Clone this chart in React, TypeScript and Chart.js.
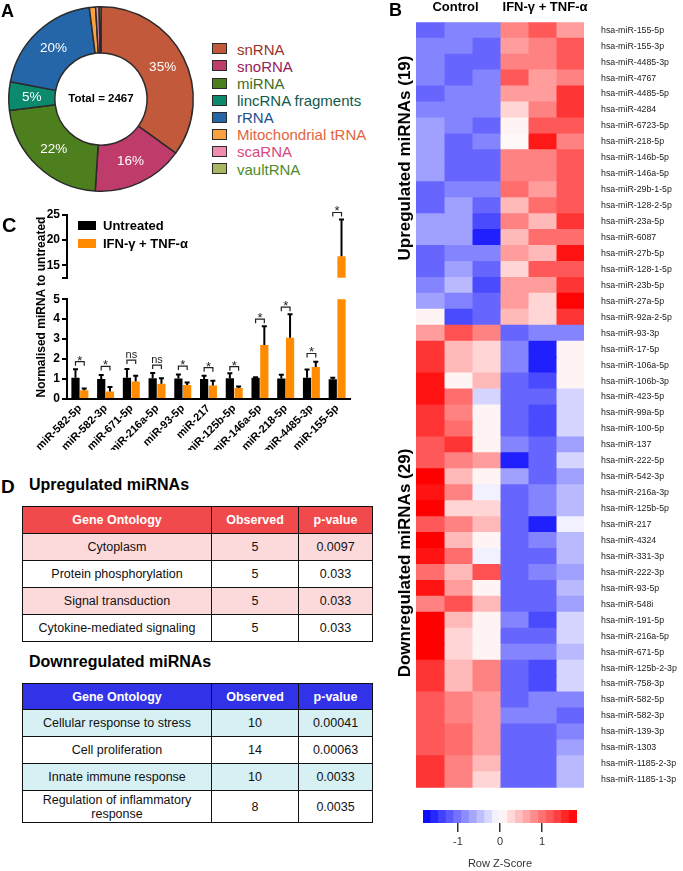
import React, { useEffect, useRef } from 'react';
import { Chart, registerables } from 'chart.js';
Chart.register(...registerables);

const FONT = '"Liberation Sans", Arial, Helvetica, sans-serif';

// ---------- Panel A ----------
const RNA_TYPES = ['snRNA', 'snoRNA', 'miRNA', 'lincRNA fragments', 'rRNA', 'Mitochondrial tRNA', 'scaRNA', 'vaultRNA'];
const RNA_COUNTS = [863, 395, 543, 123, 493, 27, 15, 8];
const RNA_PCT_LABELS = ['35%', '16%', '22%', '5%', '20%', '', '', ''];
const RNA_COLORS = ['#C2593B', '#BF3B6C', '#4E7F1F', '#0B8A6D', '#2466A8', '#F9A23F', '#F08CB0', '#A8B760'];
const RNA_TEXT_COLORS = ['#9A3328', '#962259', '#3F6E1C', '#11594A', '#1D4F8B', '#E2653E', '#D8487E', '#4E8A2B'];
const TOTAL_LABEL = 'Total = 2467';

// ---------- Panel C ----------
const MIRNAS_C = ['miR-582-5p', 'miR-582-3p', 'miR-671-5p', 'miR-216a-5p', 'miR-93-5p', 'miR-217', 'miR-125b-5p', 'miR-146a-5p', 'miR-218-5p', 'miR-4485-3p', 'miR-155-5p'];
const UNTREATED = [1.07, 1.0, 1.07, 1.04, 1.03, 1.0, 1.04, 1.06, 1.03, 1.06, 0.99];
const UNTREATED_ERR = [1.49, 1.2, 1.5, 1.3, 1.23, 1.16, 1.29, 1.09, 1.21, 1.48, 1.07];
const TREATED = [0.44, 0.38, 0.88, 0.76, 0.7, 0.68, 0.55, 2.7, 3.07, 1.6, 16.8];
const TREATED_ERR = [0.52, 0.6, 1.16, 1.04, 0.83, 0.91, 0.63, 3.65, 4.25, 1.86, 24.1];
const SIG_LABELS = ['*', '*', 'ns', 'ns', '*', '*', '*', '*', '*', '*', '*'];
const SIG_Y = [1.87, 1.63, 1.95, 1.7, 1.65, 1.57, 1.62, 4.0, 4.6, 2.28, 25.5];
const LOWER_TICKS = [0, 1, 2, 3, 4, 5];
const UPPER_MIN = 12.5;
const UPPER_TICKS = [15, 20, 25];
const SERIES_C = ['Untreated', 'IFN-γ + TNF-α'];
const COLORS_C = ['#000000', '#FF8C00'];

// ---------- Panel B ----------
const HM_ROWS = [
  'hsa-miR-155-5p', 'hsa-miR-155-3p', 'hsa-miR-4485-3p', 'hsa-miR-4767', 'hsa-miR-4485-5p', 'hsa-miR-4284',
  'hsa-miR-6723-5p', 'hsa-miR-218-5p', 'hsa-miR-146b-5p', 'hsa-miR-146a-5p', 'hsa-miR-29b-1-5p', 'hsa-miR-128-2-5p',
  'hsa-miR-23a-5p', 'hsa-miR-6087', 'hsa-miR-27b-5p', 'hsa-miR-128-1-5p', 'hsa-miR-23b-5p', 'hsa-miR-27a-5p',
  'hsa-miR-92a-2-5p',
  'hsa-miR-93-3p', 'hsa-miR-17-5p', 'hsa-miR-106a-5p', 'hsa-miR-106b-3p', 'hsa-miR-423-5p', 'hsa-miR-99a-5p',
  'hsa-miR-100-5p', 'hsa-miR-137', 'hsa-miR-222-5p', 'hsa-miR-542-3p', 'hsa-miR-216a-3p', 'hsa-miR-125b-5p',
  'hsa-miR-217', 'hsa-miR-4324', 'hsa-miR-331-3p', 'hsa-miR-222-3p', 'hsa-miR-93-5p', 'hsa-miR-548i',
  'hsa-miR-191-5p', 'hsa-miR-216a-5p', 'hsa-miR-671-5p', 'hsa-miR-125b-2-3p', 'hsa-miR-758-3p', 'hsa-miR-582-5p',
  'hsa-miR-582-3p', 'hsa-miR-139-3p', 'hsa-miR-1303', 'hsa-miR-1185-2-3p', 'hsa-miR-1185-1-3p',
];
const HM_CTRL_1 = [-1.1, -0.88, -0.88, -0.88, -1.1, -0.88, -0.68, -0.68, -0.68, -0.68, -1.1, -1.1, -0.68, -0.68, -1.1, -1.1, -0.88, -0.68, 0.08,
  0.7, 1.45, 1.45, 1.7, 1.7, 1.45, 1.45, 1.2, 1.2, 1.83, 1.7, 1.83, 1.2, 1.83, 1.7, 1.05, 1.7, 0.9, 1.83, 1.83, 1.83, 1.45, 1.45, 1.2, 1.2, 1.2, 1.2, 1.45, 1.45];
const HM_CTRL_2 = [-0.88, -0.88, -1.1, -1.1, -0.88, -0.88, -0.88, -1.1, -1.1, -1.1, -0.88, -0.68, -0.68, -0.68, -0.88, -0.68, -0.5, -0.9, -1.3,
  1.25, 0.5, 0.5, 0.08, 1.05, 0.9, 1.05, 1.45, 0.9, 0.5, 0.9, 0.3, 0.9, 0.5, 1.05, 0.5, 0.7, 1.25, 0.5, 0.3, 0.3, 0.5, 0.5, 0.9, 0.9, 1.05, 1.05, 0.9, 0.9];
const HM_CTRL_3 = [-0.88, -1.1, -1.1, -0.88, -0.88, -0.88, -1.1, -0.88, -1.1, -1.1, -0.88, -1.1, -1.3, -1.6, -0.88, -1.1, -1.3, -1.1, -1.1,
  0.9, 0.3, 0.3, 0.5, -0.3, 0.08, 0.08, 0.08, 0.7, 0.08, -0.1, 0.3, 0.5, 0.08, -0.1, 1.25, 0.08, 0.5, 0.08, 0.08, 0.08, 0.9, 0.9, 0.7, 0.7, 0.7, 0.7, 0.5, 0.3];
const HM_TRT_1 = [0.88, 0.7, 0.9, 1.2, 0.7, 0.3, 0.08, 0.05, 0.9, 0.9, 1.05, 0.5, 0.9, 0.5, 0.7, 0.3, 0.7, 0.7, 0.5,
  -1.1, -0.88, -0.88, -1.1, -1.1, -1.1, -1.1, -0.88, -1.6, -0.68, -1.1, -1.1, -1.1, -1.1, -1.1, -1.1, -1.1, -1.1, -0.88, -1.1, -0.88, -1.1, -1.1, -1.1, -0.88, -1.1, -1.1, -1.1, -1.1];
const HM_TRT_2 = [1.2, 0.9, 0.9, 0.7, 0.7, 0.9, 1.2, 1.65, 0.9, 0.9, 0.7, 1.05, 0.5, 1.05, 0.5, 1.2, 0.7, 0.3, 0.3,
  -0.88, -1.6, -1.6, -1.3, -1.1, -1.3, -1.3, -1.1, -1.1, -1.1, -0.88, -0.88, -1.6, -0.88, -1.1, -0.88, -1.1, -1.1, -1.3, -1.1, -0.88, -1.3, -1.3, -0.88, -0.88, -1.1, -1.1, -1.1, -1.1];
const HM_TRT_3 = [0.7, 1.2, 1.2, 0.9, 1.45, 1.45, 1.2, 0.9, 1.2, 1.2, 1.2, 1.2, 1.45, 1.05, 1.7, 1.2, 1.45, 1.8, 1.45,
  -0.88, 0.08, 0.08, 0.08, -0.3, -0.3, -0.3, -0.68, -0.3, -0.68, -0.5, -0.5, -0.1, -0.5, -0.5, -0.68, -0.5, -0.68, -0.3, -0.3, -0.5, -0.3, -0.3, -0.88, -1.1, -0.88, -0.68, -0.5, -0.5];
const HM_COLUMNS = [HM_CTRL_1, HM_CTRL_2, HM_CTRL_3, HM_TRT_1, HM_TRT_2, HM_TRT_3];
const Z_MAX = 1.83;
const CB_STEPS = 20;
const CB_TICKS = [-1, 0, 1];

// ---------- Panel D ----------
const UP_GO = ['Cytoplasm', 'Protein phosphorylation', 'Signal transduction', 'Cytokine-mediated signaling'];
const UP_OBS = [5, 5, 5, 5];
const UP_P = ['0.0097', '0.033', '0.033', '0.033'];
const DOWN_GO = ['Cellular response to stress', 'Cell proliferation', 'Innate immune response', 'Regulation of inflammatory response'];
const DOWN_OBS = [10, 14, 10, 8];
const DOWN_P = ['0.00041', '0.00063', '0.0033', '0.0035'];
const TABLE_HEAD = ['Gene Ontology', 'Observed', 'p-value'];

function zColor(z: number): string {
  const t = Math.max(-1, Math.min(1, z / Z_MAX));
  if (t < 0) {
    const v = Math.round(255 * (1 + t));
    return `rgb(${v},${v},255)`;
  }
  const v = Math.round(255 * (1 - t));
  return `rgb(255,${v},${v})`;
}

function ChartCanvas({ left, top, width, height, make }: { left: number; top: number; width: number; height: number; make: () => any }) {
  const ref = useRef<HTMLCanvasElement>(null);
  useEffect(() => {
    const chart = new Chart(ref.current as HTMLCanvasElement, make());
    return () => chart.destroy();
  }, []);
  return <canvas ref={ref} width={width} height={height} style={{ position: 'absolute', left, top, width, height }} />;
}

// ----- configs -----
const donutConfig = () => ({
  type: 'doughnut',
  data: {
    labels: RNA_TYPES,
    datasets: [{ data: RNA_COUNTS, backgroundColor: RNA_COLORS, borderColor: '#2b2b2b', borderWidth: 1.5 }],
  },
  options: {
    responsive: false,
    animation: false,
    devicePixelRatio: 1,
    cutout: '50%',
    layout: { padding: 6 },
    plugins: { legend: { display: false }, tooltip: { enabled: false } },
  },
  plugins: [
    {
      id: 'donutText',
      afterDatasetsDraw(chart: any) {
        const { ctx } = chart;
        const meta = chart.getDatasetMeta(0);
        ctx.save();
        ctx.textAlign = 'center';
        ctx.textBaseline = 'middle';
        ctx.fillStyle = '#ffffff';
        ctx.font = `13.5px ${FONT}`;
        meta.data.forEach((arc: any, i: number) => {
          const lab = RNA_PCT_LABELS[i];
          if (!lab) return;
          const p = arc.tooltipPosition();
          ctx.fillText(lab, p.x, p.y);
        });
        const a0 = meta.data[0];
        ctx.fillStyle = '#000';
        ctx.font = `bold 11.5px ${FONT}`;
        ctx.fillText(TOTAL_LABEL, a0.x, a0.y);
        ctx.restore();
      },
    },
  ],
});

const annotPlugin = (lo: number, hi: number) => ({
  id: 'annot',
  afterDatasetsDraw(chart: any) {
    const { ctx, chartArea, scales } = chart;
    const y = scales.y;
    const m0 = chart.getDatasetMeta(0);
    const m1 = chart.getDatasetMeta(1);
    ctx.save();
    ctx.beginPath();
    ctx.rect(chartArea.left, chartArea.top - 1, chartArea.right - chartArea.left, chartArea.bottom - chartArea.top + 1);
    ctx.clip();
    ctx.strokeStyle = '#000';
    ctx.lineWidth = 2;
    const sets: [any, number[], number[]][] = [[m0, UNTREATED, UNTREATED_ERR], [m1, TREATED, TREATED_ERR]];
    sets.forEach(([m, vals, errs]) => {
      m.data.forEach((bar: any, j: number) => {
        const x = bar.x;
        const yb = y.getPixelForValue(vals[j]);
        const yt = y.getPixelForValue(errs[j]);
        ctx.beginPath();
        ctx.moveTo(x, yb);
        ctx.lineTo(x, yt);
        ctx.moveTo(x - 2.5, yt);
        ctx.lineTo(x + 2.5, yt);
        ctx.stroke();
      });
    });
    ctx.restore();
    ctx.save();
    ctx.strokeStyle = '#222';
    ctx.fillStyle = '#222';
    ctx.lineWidth = 1.2;
    ctx.textAlign = 'center';
    ctx.textBaseline = 'alphabetic';
    SIG_Y.forEach((v, j) => {
      if (v < lo || v > hi) return;
      const x1 = m0.data[j].x;
      const x2 = m1.data[j].x;
      const py = y.getPixelForValue(v);
      ctx.beginPath();
      ctx.moveTo(x1, py + 4);
      ctx.lineTo(x1, py);
      ctx.lineTo(x2, py);
      ctx.lineTo(x2, py + 4);
      ctx.stroke();
      const lab = SIG_LABELS[j];
      if (lab === 'ns') {
        ctx.font = `11px ${FONT}`;
        ctx.fillText(lab, (x1 + x2) / 2, py - 2.5);
      } else {
        ctx.font = `13px ${FONT}`;
        ctx.fillText(lab, (x1 + x2) / 2, py + 3);
      }
    });
    ctx.restore();
  },
});

const barDatasets = () => [
  { label: SERIES_C[0], data: UNTREATED, backgroundColor: COLORS_C[0], barPercentage: 0.94, categoryPercentage: 0.68, clip: 0 },
  { label: SERIES_C[1], data: TREATED, backgroundColor: COLORS_C[1], barPercentage: 0.94, categoryPercentage: 0.68, clip: 0 },
];

const yAxisCommon = {
  grid: { display: true, drawOnChartArea: false, drawTicks: true, tickLength: 5, color: '#000', lineWidth: 2 },
  border: { display: true, color: '#000', width: 2 },
  ticks: { font: { family: FONT, size: 12, weight: 'bold' }, color: '#000', padding: 2 },
  afterFit: (s: any) => { s.width = 67; },
};

const lowerConfig = () => ({
  type: 'bar',
  data: { labels: MIRNAS_C, datasets: barDatasets() },
  options: {
    responsive: false,
    animation: false,
    devicePixelRatio: 1,
    layout: { padding: { left: 0, right: 5, top: 8, bottom: 0 } },
    plugins: { legend: { display: false }, tooltip: { enabled: false } },
    scales: {
      x: {
        grid: { display: false, drawTicks: false },
        border: { display: true, color: '#000', width: 2 },
        ticks: { font: { family: FONT, size: 11, weight: 'bold' }, color: '#000', maxRotation: 45, minRotation: 45, autoSkip: false, padding: 3 },
        afterFit: (s: any) => { s.height = 51; },
      },
      y: {
        ...yAxisCommon,
        min: 0,
        max: 5,
        afterBuildTicks: (s: any) => { s.ticks = LOWER_TICKS.map((v) => ({ value: v })); },
      },
    },
  },
  plugins: [annotPlugin(-1, 5)],
});

const upperConfig = () => ({
  type: 'bar',
  data: { labels: MIRNAS_C, datasets: barDatasets() },
  options: {
    responsive: false,
    animation: false,
    devicePixelRatio: 1,
    layout: { padding: { left: 0, right: 5, top: 15, bottom: 0 } },
    plugins: { legend: { display: false }, tooltip: { enabled: false } },
    scales: {
      x: { display: false },
      y: {
        ...yAxisCommon,
        min: UPPER_MIN,
        max: 25,
        afterBuildTicks: (s: any) => { s.ticks = [UPPER_MIN, ...UPPER_TICKS].map((v) => ({ value: v })); },
        ticks: { ...yAxisCommon.ticks, callback: (v: any) => (v === UPPER_MIN ? '' : String(v)) },
      },
    },
  },
  plugins: [annotPlugin(UPPER_MIN, 30)],
});

const heatmapConfig = () => ({
  type: 'bar',
  data: {
    labels: HM_ROWS,
    datasets: HM_COLUMNS.map((col, ci) => ({
      label: `col${ci + 1}`,
      data: HM_ROWS.map(() => 1),
      backgroundColor: col.map(zColor),
      borderWidth: 0,
      barPercentage: 1,
      categoryPercentage: 1,
      inflateAmount: 0.5,
    })),
  },
  options: {
    indexAxis: 'y',
    responsive: false,
    animation: false,
    devicePixelRatio: 1,
    layout: { padding: { left: 16, top: 18, right: 0, bottom: 5 } },
    plugins: { legend: { display: false }, tooltip: { enabled: false } },
    scales: {
      x: { type: 'linear', display: false, stacked: true, min: 0, max: 6 },
      y: {
        type: 'category',
        stacked: true,
        position: 'right',
        grid: { display: false, drawTicks: false },
        border: { display: false },
        ticks: { autoSkip: false, font: { family: FONT, size: 8.8 }, color: '#222', padding: 17 },
        afterFit: (s: any) => { s.width = 99; },
      },
    },
  },
});

const colorbarConfig = () => {
  const w = (2 * Z_MAX) / CB_STEPS;
  const steps = Array.from({ length: CB_STEPS }, (_, k) => [-Z_MAX + k * w, -Z_MAX + (k + 1) * w]);
  return {
    type: 'bar',
    data: {
      labels: ['z'],
      datasets: [{
        data: steps.map((s) => ({ x: s, y: 'z' })),
        backgroundColor: steps.map((s) => zColor((s[0] + s[1]) / 2)),
        borderWidth: 0,
        barPercentage: 1,
        categoryPercentage: 1,
        inflateAmount: 0.4,
      }],
    },
    options: {
      indexAxis: 'y',
      responsive: false,
      animation: false,
      devicePixelRatio: 1,
      layout: { padding: { left: 8, right: 8, top: 5, bottom: 0 } },
      plugins: { legend: { display: false }, tooltip: { enabled: false } },
      scales: {
        x: {
          type: 'linear',
          min: -Z_MAX,
          max: Z_MAX,
          afterBuildTicks: (s: any) => { s.ticks = CB_TICKS.map((v) => ({ value: v })); },
          grid: { display: true, drawOnChartArea: false, drawTicks: true, tickLength: 9, color: '#333', lineWidth: 1.5 },
          border: { display: false },
          ticks: { font: { family: FONT, size: 11 }, color: '#333', padding: 3 },
          title: { display: true, text: 'Row Z-Score', font: { family: FONT, size: 11 }, color: '#333', padding: { top: 2, bottom: 0 } },
          afterFit: (s: any) => { s.height = 48; },
        },
        y: { type: 'category', display: false },
      },
    },
  };
};

// ----- HTML helpers -----
function Txt({ x, cy, size, text, bold = false, center = false, color = '#000' }: any) {
  return (
    <div
      style={{
        position: 'absolute',
        left: x,
        top: cy - size / 2,
        lineHeight: `${size}px`,
        fontSize: size,
        fontWeight: bold ? 'bold' : 'normal',
        whiteSpace: 'nowrap',
        color,
        fontFamily: FONT,
        transform: center ? 'translateX(-50%)' : undefined,
      }}
    >
      {text}
    </div>
  );
}

function Rot({ cx, cy, size, text }: any) {
  return (
    <div
      style={{
        position: 'absolute',
        left: cx,
        top: cy,
        transform: 'translate(-50%,-50%) rotate(-90deg)',
        whiteSpace: 'nowrap',
        fontSize: size,
        fontWeight: 'bold',
        lineHeight: 1,
        fontFamily: FONT,
      }}
    >
      {text}
    </div>
  );
}

function GoTable({ left, top, headBg, rowBg, go, obs, p, headH, rowH }: any) {
  const cell: React.CSSProperties = { border: '1.5px solid #111', padding: 0, textAlign: 'center', verticalAlign: 'middle', fontSize: 12.5, lineHeight: '14px' };
  return (
    <table
      style={{ position: 'absolute', left, top, width: 350, borderCollapse: 'collapse', tableLayout: 'fixed', fontFamily: FONT, color: '#111' }}
    >
      <colgroup>
        <col style={{ width: 189 }} />
        <col style={{ width: 87 }} />
        <col style={{ width: 74 }} />
      </colgroup>
      <thead>
        <tr style={{ height: headH, background: headBg }}>
          {TABLE_HEAD.map((h) => (
            <th key={h} style={{ ...cell, color: '#fff', fontWeight: 'bold' }}>{h}</th>
          ))}
        </tr>
      </thead>
      <tbody>
        {go.map((g: string, i: number) => (
          <tr key={g} style={{ height: rowH[i], background: rowBg[i % 2] }}>
            <td style={{ ...cell, padding: '0 8px' }}>{g}</td>
            <td style={cell}>{obs[i]}</td>
            <td style={cell}>{p[i]}</td>
          </tr>
        ))}
      </tbody>
    </table>
  );
}

export default function App() {
  return (
    <div style={{ position: 'absolute', left: 0, top: 0, width: 683, height: 871, overflow: 'hidden', background: '#fff', fontFamily: FONT }}>
      <ChartCanvas left={0} top={0} width={202} height={198} make={donutConfig} />
      <ChartCanvas left={0} top={200} width={355} height={87} make={upperConfig} />
      <ChartCanvas left={0} top={290} width={355} height={160} make={lowerConfig} />
      <ChartCanvas left={400} top={0} width={283} height={810} make={heatmapConfig} />
      <ChartCanvas left={415} top={805} width={170} height={66} make={colorbarConfig} />

      {/* Panel A legend */}
      {RNA_TYPES.map((t, i) => (
        <React.Fragment key={t}>
          <div style={{ position: 'absolute', left: 212, top: 49.3 + i * 17.1 - 6, width: 13, height: 9, background: RNA_COLORS[i], border: '1.5px solid #2b2b2b' }} />
          <Txt x={237} cy={49.3 + i * 17.1} size={15} text={t} color={RNA_TEXT_COLORS[i]} />
        </React.Fragment>
      ))}

      {/* Panel C legend and title */}
      {SERIES_C.map((s, i) => (
        <React.Fragment key={s}>
          <div style={{ position: 'absolute', left: 78, top: 221 + i * 18, width: 18, height: 9, background: COLORS_C[i] }} />
          <Txt x={103} cy={225.5 + i * 18} size={13} bold text={s} />
        </React.Fragment>
      ))}
      <Rot cx={41} cy={307} size={12} text="Normalised miRNA to untreated" />

      {/* Panel B texts */}
      <Txt x={455.5} cy={6.5} size={13} bold center text="Control" />
      <Txt x={545} cy={6.5} size={13} bold center text="IFN-γ + TNF-α" />
      <Rot cx={404} cy={158} size={17} text="Upregulated miRNAs (19)" />
      <Rot cx={404} cy={563} size={17} text="Downregulated miRNAs (29)" />

      {/* Panel labels */}
      <Txt x={1} cy={11} size={18} bold text="A" />
      <Txt x={389} cy={9.5} size={18} bold text="B" />
      <Txt x={2} cy={224.5} size={20} bold text="C" />
      <Txt x={1} cy={486} size={19} bold text="D" />

      {/* Panel D */}
      <Txt x={29} cy={485} size={16} bold text="Upregulated miRNAs" />
      <GoTable left={22} top={506} headBg="#F04A4C" rowBg={['#FCDADB', '#FFFFFF']} go={UP_GO} obs={UP_OBS} p={UP_P} headH={27} rowH={[27, 27, 27, 27]} />
      <Txt x={29} cy={662} size={16} bold text="Downregulated miRNAs" />
      <GoTable left={22} top={683} headBg="#3232E8" rowBg={['#D6F0F4', '#FFFFFF']} go={DOWN_GO} obs={DOWN_OBS} p={DOWN_P} headH={26} rowH={[27, 27, 27, 32]} />
    </div>
  );
}
